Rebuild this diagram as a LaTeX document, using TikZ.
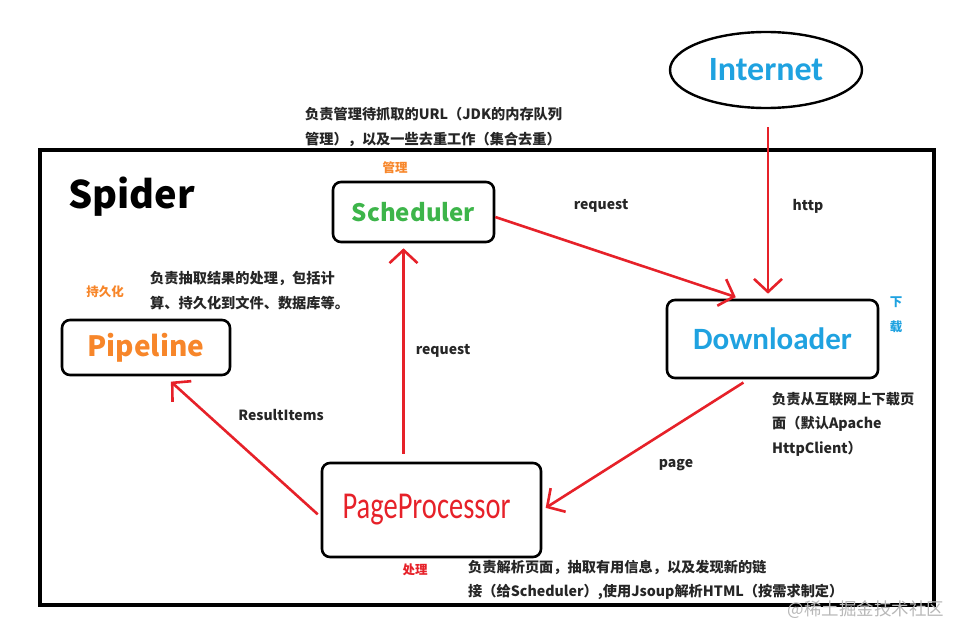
\documentclass[tikz,border=0pt]{standalone}
\usepackage{fontspec}
\usetikzlibrary{arrows.meta,shapes.geometric}
\newfontfamily\cjk{Noto Sans CJK SC}
\newfontfamily\carl{Carlito}
\newfontfamily\carlN{Carlito}[FakeStretch=0.75]
\definecolor{cblue}{HTML}{1FA2E0}
\definecolor{cgreen}{HTML}{3DB54A}
\definecolor{corange}{HTML}{F7862A}
\definecolor{cred}{HTML}{E62129}
\definecolor{cgray}{HTML}{B8B8B8}
\tikzset{
  box/.style={draw=black, line width=2.6pt, rounded corners=8pt, inner sep=0pt},
  arr/.style={draw=cred, line width=2.6pt, -{Straight Barb[length=13pt,width=28pt,line width=2.6pt]}},
  note/.style={font=\cjk\bfseries\fontsize{14.2}{24.5}\selectfont, text=black!85, align=left, anchor=west, inner sep=0pt},
  lbl/.style={font=\cjk\bfseries\fontsize{14}{16}\selectfont, text=black!85, inner sep=0pt},
  tag/.style={font=\cjk\bfseries\fontsize{12.5}{14}\selectfont, inner sep=0pt}
}
\begin{document}
\begin{tikzpicture}[x=1pt,y=-1pt]
\useasboundingbox (0,0) rectangle (966,642);
% frame
\draw[line width=3.2pt] (40,150) rectangle (934,605);
\node[font=\cjk\bfseries\fontsize{38}{40}\selectfont, anchor=west, inner sep=0pt] (spider) at (68,197) {Spider};
% nodes
\node[draw=black, line width=2.4pt, ellipse, minimum width=192pt, minimum height=76pt, inner sep=0pt,
      font=\carl\bfseries\fontsize{34}{36}\selectfont, text=cblue] (inet) at (766,70) {Internet};
\node[box, minimum width=161pt, minimum height=60pt, font=\cjk\bfseries\fontsize{24}{26}\selectfont, text=cgreen] (sched) at (413.5,212) {Scheduler};
\node[box, minimum width=211pt, minimum height=78pt, font=\carl\bfseries\fontsize{31}{33}\selectfont, text=cblue] (down) at (772.5,339) {Downloader};
\node[box, minimum width=168pt, minimum height=55pt, font=\cjk\bfseries\fontsize{28}{30}\selectfont, text=corange] (pipe) at (146,347.5) {Pipeline};
\node[box, minimum width=219pt, minimum height=94pt, font=\carlN\fontsize{38}{40}\selectfont, text=cred] (pp) at (431.5,510) {\hspace*{-10pt}PageProcessor};
% tags
\node[tag, text=corange] (t1) at (395,168) {管理};
\node[tag, text=corange] (t2) at (105,292) {持久化};
\node[tag, text=cblue] (t3) at (896,302) {下};
\node[tag, text=cblue] (t4) at (896,327) {载};
\node[tag, text=cred] (t5) at (415,570) {处理};
% notes
\node[note] (n1) at (305,127) {负责管理待抓取的URL（JDK的内存队列\\管理），以及一些去重工作（集合去重）};
\node[note] (n2) at (150,290.5) {负责抽取结果的处理，包括计\\算、持久化到文件、数据库等。};
\node[note] (n3) at (772,424) {负责从互联网上下载页\\面（默认Apache\\HttpClient）};
\node[note] (n4) at (468,580) {负责解析页面，抽取有用信息，以及发现新的链\\接（给Scheduler）,使用Jsoup解析HTML（按需求制定）};
% labels
\node[lbl] (l1) at (601,206) {request};
\node[lbl] (l2) at (808,206) {http};
\node[lbl] (l3) at (443,351) {request};
\node[lbl] (l4) at (676,465) {page};
\node[lbl] (l5) at (281,415) {ResultItems};
% watermark
\node[font=\cjk\fontsize{17.5}{19}\selectfont, text=cgray, inner sep=0pt] (wm) at (866,610) {@稀土掘金技术社区};
% arrows
\draw[arr, shorten >=5pt] ([yshift=-5pt]sched.east) -- ([xshift=-32pt]down.north);
\draw[arr, shorten <=18pt, shorten >=5pt] ([xshift=2pt]inet.south) -- ([xshift=2pt]inet.south |- down.north);
\draw[arr, shorten <=6pt, shorten >=4pt] ([xshift=-24pt]down.south) -- (pp.east);
\draw[arr, shorten <=8pt, shorten >=5pt] ([xshift=-28pt]pp.north) -- ([xshift=-10pt]sched.south);
\draw[arr, shorten <=4pt, shorten >=8pt] ([yshift=-7pt]pp.west) -- ([xshift=19pt]pipe.south);
\end{tikzpicture}
\end{document}
